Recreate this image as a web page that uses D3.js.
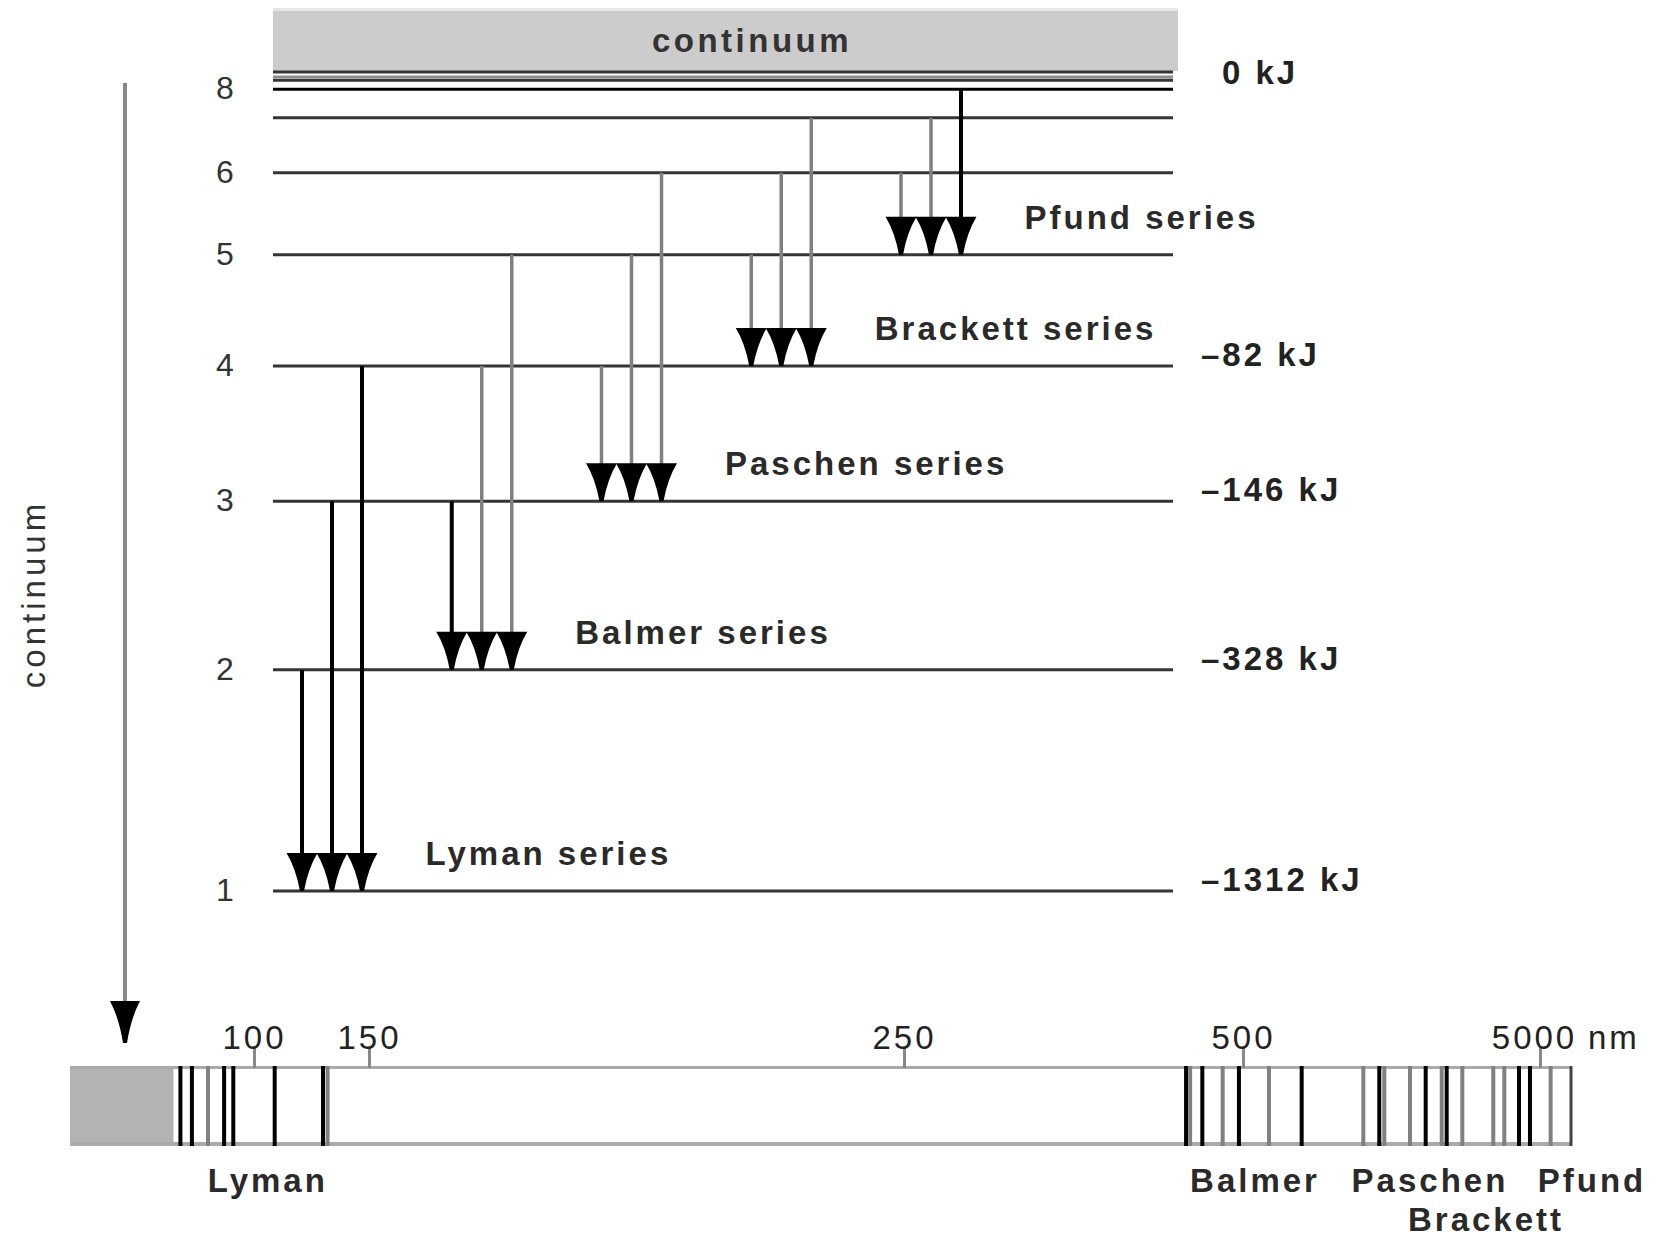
<!DOCTYPE html>
<html>
<head>
<meta charset="utf-8">
<script src="https://cdn.jsdelivr.net/npm/d3@7"></script>
<style>
  body { margin: 0; background: #fff; }
  svg text { font-family: "Liberation Sans", Arial, sans-serif; }
</style>
</head>
<body>
<svg id="chart" width="1667" height="1238"></svg>
<script>
// ENERGY LEVELS (schematic height, % of the diagram between n=1 and the continuum)
const levelN = [1, 2, 3, 4, 5, 6, 7, 8, 9, 10, Infinity];
const levelHeight = [0, 27.0, 47.6, 64.1, 77.7, 87.7, 94.4, 97.9, 99.0, 99.4, 100];
const numberedLevels = [1, 2, 3, 4, 5, 6, 8];

const energyLevelN = [4, 3, 2, 1, Infinity];
const energyKJ = [-82, -146, -328, -1312, 0];

// series: each one ends on seriesLower and starts from the next three levels
const seriesNames = ['Lyman', 'Balmer', 'Paschen', 'Brackett', 'Pfund'];
const seriesLower = [1, 2, 3, 4, 5];
const seriesUpper = [[2, 3, 4], [3, 4, 5], [4, 5, 6], [5, 6, 7], [6, 7, 8]];
const seriesTones = [
    ['black', 'black', 'black'],
    ['black', 'gray', 'gray'],
    ['gray', 'gray', 'gray'],
    ['gray', 'gray', 'gray'],
    ['gray', 'gray', 'black']
];

// SPECTRUM BAR (wavelength in nm)
const wavelengthTicks = [100, 150, 250, 500, 5000];
const spectrumNm = [68, 73, 80, 87, 91, 109, 130, 132,
    458, 461, 470, 485, 497, 894, 1389,
    2323, 2565, 2641, 3030, 3268, 3511, 3586, 3823,
    4292, 4459, 4682, 4848, 5161];
const spectrumTone = ['black', 'black', 'gray', 'black', 'black', 'black', 'black', 'gray',
    'black', 'gray', 'black', 'gray', 'black', 'gray', 'black',
    'gray', 'black', 'gray', 'gray', 'black', 'gray', 'black', 'gray',
    'gray', 'gray', 'black', 'black', 'gray'];
const spectrumStartNm = 20;
const continuumEdgeNm = 65;
const spectrumEndNm = 5470;
const spectrumLabels = ['Lyman', 'Balmer', 'Paschen', 'Brackett', 'Pfund'];
const spectrumLabelNm = [106, 682, 3333, 4182, 5788];
const spectrumLabelRow = [0, 0, 0, 1, 0];

const toneColor = {black: '#000', gray: '#808080'};

var svg = d3.select('#chart');

// scales
var y = d3.scaleLinear().domain([0, 100]).range([891, 72]);
var levelY = n => y(levelHeight[levelN.indexOf(n)]);
var seriesX = d3.scaleLinear().domain([0, seriesNames.length - 1]).range([302, 901]);
var arrowStep = 30;
var wl = d3.scaleLinear().domain(wavelengthTicks).range([254, 369, 904, 1243, 1540]);

var lineLeft = 273, lineRight = 1173;
var headW = 31, headH = 38;

// downward arrowhead with slightly hollow sides
const headPath = (x, tip, w, h) => {
    const t = tip - h;
    return `M${x - w / 2},${t} L${x + w / 2},${t}
        Q${x + w * 0.2},${t + h * 0.4} ${x + 2},${tip}
        L${x - 2},${tip}
        Q${x - w * 0.2},${t + h * 0.4} ${x - w / 2},${t} Z`;
};

// continuum box on top
svg.append('rect')
    .attr('x', lineLeft).attr('y', 8)
    .attr('width', 905).attr('height', 63)
    .attr('fill', '#cccccc');
svg.append('rect')
    .attr('x', lineLeft).attr('y', 8)
    .attr('width', 905).attr('height', 3)
    .attr('fill', '#e6e6e6');
svg.append('text')
    .attr('x', 752).attr('y', 52)
    .attr('text-anchor', 'middle')
    .style('font-size', '33px').style('font-weight', 'bold')
    .style('letter-spacing', '3.5px')
    .attr('fill', '#333')
    .text('continuum');

// level lines
svg.append('g').selectAll('line')
    .data(levelN)
    .enter().append('line')
    .attr('x1', lineLeft).attr('x2', lineRight)
    .attr('y1', d => levelY(d)).attr('y2', d => levelY(d))
    .attr('stroke', d => d === 8 ? '#000' : (d === 10 ? '#8a8a8a' : '#353535'))
    .attr('stroke-width', 3);

// level numbers
svg.append('g').selectAll('text')
    .data(numberedLevels)
    .enter().append('text')
    .attr('x', 225)
    .attr('y', d => levelY(d) + 10)
    .attr('text-anchor', 'middle')
    .style('font-size', '32px')
    .attr('fill', '#333')
    .text(d => d);

// energy values
svg.append('g').selectAll('text')
    .data(energyLevelN)
    .enter().append('text')
    .attr('x', 1201)
    .attr('dx', (d, i) => energyKJ[i] < 0 ? 0 : 21)
    .attr('y', d => d === Infinity ? levelY(d) + 12 : levelY(d))
    .style('font-size', '33px').style('font-weight', 'bold')
    .style('letter-spacing', '3px')
    .attr('fill', '#222')
    .text((d, i) => energyKJ[i] < 0 ? `\u2013${-energyKJ[i]} kJ` : `${energyKJ[i]} kJ`);

// transitions, one group per series
var series = svg.append('g').selectAll('g')
    .data(seriesNames)
    .enter().append('g');

series.each(function(name, s) {
    var g = d3.select(this);
    var tip = levelY(seriesLower[s]);
    var arrows = seriesUpper[s].map((n, k) => ({
        n: n,
        x: seriesX(s) + k * arrowStep,
        tone: seriesTones[s][k]
    }));

    g.selectAll('line')
        .data(arrows)
        .enter().append('line')
        .attr('x1', d => d.x).attr('x2', d => d.x)
        .attr('y1', d => levelY(d.n))
        .attr('y2', tip - headH + 2)
        .attr('stroke', d => toneColor[d.tone])
        .attr('stroke-width', d => d.tone === 'black' ? 4 : 3.5);

    g.selectAll('path')
        .data(arrows)
        .enter().append('path')
        .attr('d', d => headPath(d.x, tip, headW, headH))
        .attr('fill', '#000');

    g.append('text')
        .attr('x', arrows[2].x + headW / 2 + 48)
        .attr('y', tip - headH + 12)
        .style('font-size', '33px').style('font-weight', 'bold')
        .style('letter-spacing', '3px')
        .attr('fill', '#2a2a2a')
        .text(name + ' series');
});

// vertical arrow and label on the left
svg.append('line')
    .attr('x1', 125).attr('x2', 125)
    .attr('y1', 83).attr('y2', 1006)
    .attr('stroke', '#888')
    .attr('stroke-width', 4);
svg.append('path')
    .attr('d', headPath(125, 1043, 30, 42))
    .attr('fill', '#000');
svg.append('text')
    .attr('transform', 'translate(45, 594) rotate(-90)')
    .attr('text-anchor', 'middle')
    .style('font-size', '33px')
    .style('letter-spacing', '4px')
    .attr('fill', '#333')
    .text('continuum');

// SPECTRUM BAR //
var barTop = 1066, barBottom = 1146;
var bar = svg.append('g');

bar.append('rect')
    .attr('x', wl(spectrumStartNm)).attr('y', barTop)
    .attr('width', wl(continuumEdgeNm) - wl(spectrumStartNm))
    .attr('height', barBottom - barTop)
    .attr('fill', '#b3b3b3');

bar.append('line')
    .attr('x1', wl(spectrumStartNm)).attr('x2', wl(spectrumEndNm))
    .attr('y1', barTop + 1.5).attr('y2', barTop + 1.5)
    .attr('stroke', '#aaa').attr('stroke-width', 3);
bar.append('line')
    .attr('x1', wl(spectrumStartNm)).attr('x2', wl(spectrumEndNm))
    .attr('y1', barBottom - 2).attr('y2', barBottom - 2)
    .attr('stroke', '#aaa').attr('stroke-width', 4);

bar.selectAll('.specline')
    .data(spectrumNm)
    .enter().append('line')
    .classed('specline', true)
    .attr('x1', d => wl(d)).attr('x2', d => wl(d))
    .attr('y1', barTop).attr('y2', barBottom)
    .attr('stroke', (d, i) => toneColor[spectrumTone[i]])
    .attr('stroke-width', 4);

bar.append('line')
    .attr('x1', wl(spectrumEndNm)).attr('x2', wl(spectrumEndNm))
    .attr('y1', barTop).attr('y2', barBottom)
    .attr('stroke', '#444').attr('stroke-width', 3);

// wavelength axis
var axis = svg.append('g')
    .attr('transform', `translate(0, ${barTop + 2})`)
    .call(d3.axisTop(wl).tickValues(wavelengthTicks).tickFormat(d3.format('d'))
        .tickSize(21).tickPadding(-2));
axis.select('.domain').remove();
axis.selectAll('.tick line')
    .attr('stroke', '#888')
    .attr('stroke-width', 3);
axis.selectAll('.tick text')
    .style('font-size', '33px')
    .style('letter-spacing', '3px')
    .style('font-family', '"Liberation Sans", Arial, sans-serif')
    .attr('dx', d => d === 5000 ? -6 : 0)
    .attr('fill', '#222');
svg.append('text')
    .attr('x', wl(5000) + 48)
    .attr('y', barTop - 17)
    .style('font-size', '33px')
    .style('letter-spacing', '3px')
    .attr('fill', '#222')
    .text('nm');

// series names under the bar
svg.append('g').selectAll('text')
    .data(spectrumLabels)
    .enter().append('text')
    .attr('x', (d, i) => wl(spectrumLabelNm[i]))
    .attr('y', (d, i) => 1192 + spectrumLabelRow[i] * 39)
    .attr('text-anchor', 'middle')
    .style('font-size', '33px').style('font-weight', 'bold')
    .style('letter-spacing', '3px')
    .attr('fill', '#2a2a2a')
    .text(d => d);
</script>
</body>
</html>
